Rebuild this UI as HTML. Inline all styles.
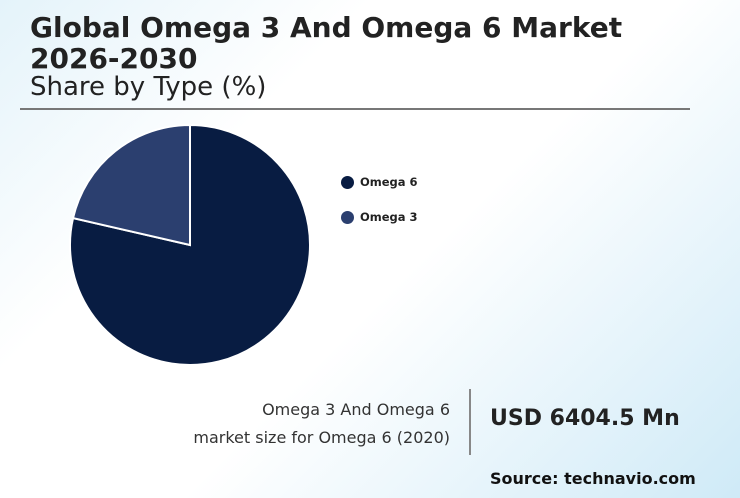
<!DOCTYPE html>
<html><head><meta charset="utf-8"><style>
body{margin:0}
#c{position:relative;width:740px;height:498px;overflow:hidden;font-family:"DejaVu Sans","Liberation Sans",sans-serif;color:#222;background:linear-gradient(135deg,#e4f3fa 0%,#ffffff 30%,#ffffff 55%,#cfeaf7 100%)}
.t{position:absolute;white-space:nowrap}
</style></head><body>
<div id="c">
<div class="t" style="left:30px;top:12px;font-size:28px;font-weight:bold;line-height:31px">Global Omega 3 And Omega 6 Market<br>2026-2030</div>
<div class="t" style="left:30px;top:71px;font-size:26px;line-height:32px">Share by Type (%)</div>
<div style="position:absolute;left:20px;top:108px;width:670px;height:2px;background:#777"></div>
<svg id="pie" width="740" height="498" style="position:absolute;left:0;top:0"></svg>
<div class="t" style="left:341px;top:175px;font-size:11.5px;font-weight:bold"><span style="display:inline-block;width:13px;height:13px;border-radius:50%;background:#081c42;vertical-align:-3px;margin-right:6px"></span>Omega 6</div>
<div class="t" style="left:341px;top:210px;font-size:11.5px;font-weight:bold"><span style="display:inline-block;width:13px;height:13px;border-radius:50%;background:#2b3f6f;vertical-align:-3px;margin-right:6px"></span>Omega 3</div>
<div class="t" style="right:290px;top:396px;font-size:16px;line-height:28px;text-align:right;color:#333">Omega 3 And Omega 6<br>market size for Omega 6 (2020)</div>
<div style="position:absolute;left:469px;top:389px;width:2px;height:66px;background:#888"></div>
<div class="t" style="left:490px;top:406px;font-size:22px;font-weight:bold">USD 6404.5 Mn</div>
<div class="t" style="left:490px;top:469px;font-size:16px;font-weight:bold;color:#111">Source: technavio.com</div>
</div>
<script>
const categories=["Omega 6","Omega 3"];
const values=[78.6,21.4];
const colors=["#081c42","#2b3f6f"];
const svg=document.getElementById('pie');
const cx=190,cy=245,r=120;
const total=values.reduce((a,b)=>a+b,0);
let a0=0;
values.forEach((v,i)=>{
  const a1=a0+v/total*2*Math.PI;
  const x0=cx+r*Math.sin(a0),y0=cy-r*Math.cos(a0);
  const x1=cx+r*Math.sin(a1),y1=cy-r*Math.cos(a1);
  const large=(a1-a0)>Math.PI?1:0;
  const p=document.createElementNS('http://www.w3.org/2000/svg','path');
  p.setAttribute('d',`M${cx},${cy}L${x0},${y0}A${r},${r} 0 ${large} 1 ${x1},${y1}Z`);
  p.setAttribute('fill',colors[i]);
  p.setAttribute('stroke','#fff');
  p.setAttribute('stroke-width','2');
  
  
  svg.appendChild(p);
  a0=a1;
});
</script>
</body></html>
